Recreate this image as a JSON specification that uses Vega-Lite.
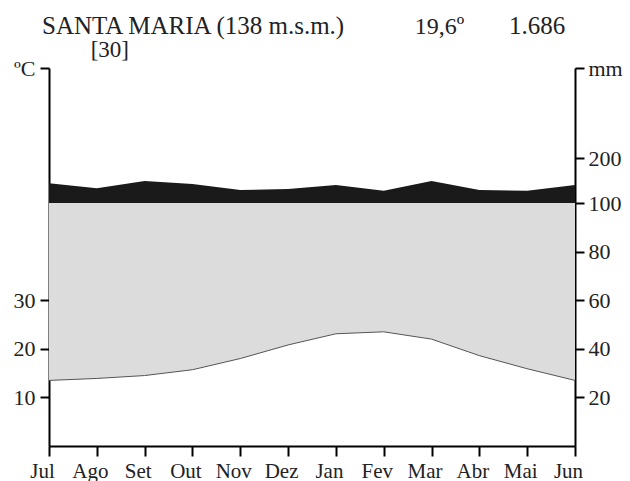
{
  "$schema": "https://vega.github.io/schema/vega-lite/v6.json",
  "width": 526,
  "height": 378,
  "autosize": "none",
  "padding": {"left": 49, "top": 68, "right": 55, "bottom": 35},
  "background": "white",
  "config": {"font": "'Liberation Serif', serif", "view": {"stroke": null}, "axis": {"grid": false, "labelFont": "'Liberation Serif', serif"}, "text": {"font": "'Liberation Serif', serif"}},
  "data": {"values": [
    {"mes": "Jul", "temp": 13.5, "prec": 144},
    {"mes": "Ago", "temp": 13.9, "prec": 133},
    {"mes": "Set", "temp": 14.5, "prec": 149},
    {"mes": "Out", "temp": 15.7, "prec": 142},
    {"mes": "Nov", "temp": 18.0, "prec": 129},
    {"mes": "Dez", "temp": 20.8, "prec": 131},
    {"mes": "Jan", "temp": 23.1, "prec": 140},
    {"mes": "Fev", "temp": 23.5, "prec": 127},
    {"mes": "Mar", "temp": 22.0, "prec": 149},
    {"mes": "Abr", "temp": 18.6, "prec": 129},
    {"mes": "Mai", "temp": 15.9, "prec": 127},
    {"mes": "Jun", "temp": 13.5, "prec": 140}
  ]},
  "encoding": {
    "x": {
      "field": "mes", "type": "ordinal",
      "scale": {"type": "point", "padding": 0, "domain": ["Jul","Ago","Set","Out","Nov","Dez","Jan","Fev","Mar","Abr","Mai","Jun"]},
      "axis": {"title": null, "labelAngle": 0, "domainColor": "black", "domainWidth": 2, "tickColor": "black", "tickWidth": 2, "tickSize": 10, "labelFontSize": 21, "labelColor": "#222222", "labelPadding": 4, "labelOverlap": false, "labelBaseline": "top", "labelOffset": -7}
    }
  },
  "layer": [
    {
      "layer": [
        {
          "mark": {"type": "area", "color": "#dcdcdc"},
          "encoding": {
            "y": {"field": "temp", "type": "quantitative",
              "scale": {"domain": [0, 77.8], "nice": false, "zero": false},
              "axis": {"orient": "left", "title": null, "values": [10, 20, 30, 77.8], "labelExpr": "datum.value > 70 ? 'ºC' : datum.label", "domainColor": "black", "domainWidth": 2, "tickColor": "black", "tickWidth": 2, "tickSize": 9, "labelFontSize": 22, "labelColor": "#222222", "labelPadding": 5}},
            "y2": {"datum": 50}
          }
        },
        {
          "mark": {"type": "line", "color": "#555555", "strokeWidth": 1},
          "encoding": {"y": {"field": "temp", "type": "quantitative"}}
        },
        {
          "data": {"values": [{"t": "SANTA MARIA (138 m.s.m.)"}]},
          "mark": {"type": "text", "align": "left", "baseline": "alphabetic", "fontSize": 25, "dx": -7, "color": "#222222"},
          "encoding": {"x": {"datum": "Jul"}, "y": {"datum": 84.8}, "text": {"field": "t"}}
        },
        {
          "data": {"values": [{"t": "[30]"}]},
          "mark": {"type": "text", "align": "center", "baseline": "alphabetic", "fontSize": 23, "dx": 13, "color": "#222222"},
          "encoding": {"x": {"datum": "Ago"}, "y": {"datum": 80.1}, "text": {"field": "t"}}
        },
        {
          "data": {"values": [{"t": "19,6º"}]},
          "mark": {"type": "text", "align": "center", "baseline": "alphabetic", "fontSize": 24, "dx": 8, "color": "#222222"},
          "encoding": {"x": {"datum": "Mar"}, "y": {"datum": 84.8}, "text": {"field": "t"}}
        },
        {
          "data": {"values": [{"t": "1.686"}]},
          "mark": {"type": "text", "align": "center", "baseline": "alphabetic", "fontSize": 25, "dx": 10, "color": "#222222"},
          "encoding": {"x": {"datum": "Mai"}, "y": {"datum": 84.8}, "text": {"field": "t"}}
        }
      ]
    },
    {
      "layer": [
        {
          "mark": {"type": "area", "color": "#1a1a1a"},
          "encoding": {
            "y": {"field": "prec", "type": "quantitative",
              "scale": {"domain": [0, 100, 400], "range": [378, 135, 0], "nice": false, "zero": false},
              "axis": {"orient": "right", "title": null, "values": [20, 40, 60, 80, 100, 200, 400], "labelExpr": "datum.value == 400 ? 'mm' : datum.label", "domainColor": "black", "domainWidth": 2, "tickColor": "black", "tickWidth": 2, "tickSize": 9, "labelFontSize": 22, "labelColor": "#222222", "labelPadding": 4}},
            "y2": {"datum": 100}
          }
        }
      ]
    }
  ],
  "resolve": {"scale": {"y": "independent"}}
}
